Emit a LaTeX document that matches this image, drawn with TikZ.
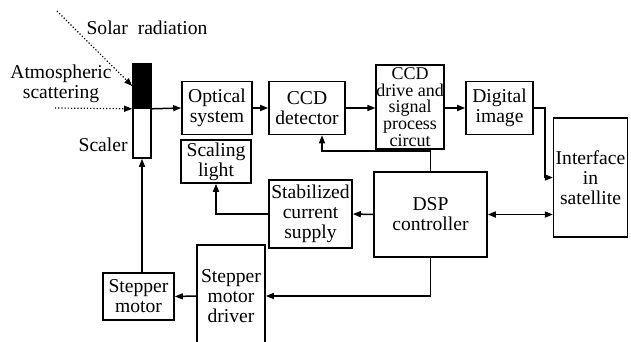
\documentclass[tikz,border=0pt]{standalone}
\usepackage{fontspec}
\setmainfont{Liberation Serif}
\usetikzlibrary{arrows.meta,positioning}

\begin{document}
\begin{tikzpicture}[x=0.5pt, y=-0.5pt,
  font=\fontsize{9.8}{10}\selectfont,
  box/.style={draw, line width=0.8pt, align=center, inner sep=1pt},
  arr/.style={-{Triangle[length=4pt,width=3pt]}, line width=0.75pt},
  darr/.style={-{Triangle[length=4pt,width=3pt]}, line width=0.6pt, densely dotted},
  lbl/.style={align=center, inner sep=1pt}]
\useasboundingbox (0,0) rectangle (631,342);
\clip (0,0) rectangle (631,342);
% scaler
\node[draw, fill=black, line width=0.8pt, inner sep=0, minimum width=9pt, minimum height=22pt] (shade) at (142,86) {};
\node[draw, line width=0.8pt, inner sep=0, minimum width=9pt, minimum height=25pt] (scaler) at (142,133) {};
\node[lbl, anchor=east] (scalerlbl) at (130,145) {Scaler};
% incoming light
\node[lbl] (solar) at (147,28) {Solar\ \ radiation};
\node[lbl] (atmo) at (61,84) {Atmospheric\\scattering};
\coordinate (sun) at (57,11);
\coordinate (haze) at (55,108);
\draw[darr] (sun) -- (shade.west);
\draw[darr] (haze) -- (shade.south west);
% upper row
\node[box, minimum width=35pt, minimum height=26.5pt] (optical) at (217,108) {Optical\\system};
\node[box, minimum width=38pt, minimum height=26.5pt] (ccd) at (307,108) {CCD\\detector};
\node[box, minimum width=33pt, minimum height=42pt, inner sep=0pt, font=\fontsize{9}{8.3}\selectfont] (drive) at (410,107) {CCD\\drive and\\signal\\process\\circut};
\node[box, minimum width=33.5pt, minimum height=26.5pt] (digital) at (499.5,108) {Digital\\image};
\node[box, minimum width=36.5pt, minimum height=59.5pt] (iface) at (590.5,177.5) {Interface\\in\\satellite};
\draw[arr] (shade.south east) -- (optical.west);
\draw[arr] (optical) -- (ccd);
\draw[arr] (ccd.east) -- (ccd.east -| drive.west);
\draw[arr] (ccd.east -| drive.east) -- (digital.west);
\draw[arr] (digital.east) -- ++(11,0) |- (iface.west);
% control part
\node[box, minimum width=35pt, minimum height=21.5pt] (light) at (216,161.5) {Scaling\\light};
\node[box, minimum width=41.5pt, minimum height=34pt] (supply) at (310.5,214) {Stabilized\\current\\supply};
\node[box, minimum width=56.5pt, minimum height=42.5pt] (dsp) at (430.5,214.5) {DSP\\controller};
\node[box, minimum width=34pt, minimum height=51pt] (driver) at (231,296) {Stepper\\motor\\driver};
\node[box, minimum width=35.5pt, minimum height=23.5pt] (motor) at (138.5,296.5) {Stepper\\motor};
\draw[arr] (dsp.north) -- ++(0,-20) -| ([xshift=7.5pt]ccd.south);
\draw[{Triangle[length=4pt,width=3pt]}-{Triangle[length=4pt,width=3pt]}, line width=0.75pt] (dsp.east) -- (dsp.east -| iface.west);
\draw[arr] (dsp.west) -- (supply.east);
\draw[arr] (supply.west) -| (light.south);
\draw[arr] (dsp.south) |- (driver.east);
\draw[arr] (driver.west) -- (motor.east);
\draw[arr] (scaler.south |- motor.north) -- (scaler.south);
\end{tikzpicture}
\end{document}
